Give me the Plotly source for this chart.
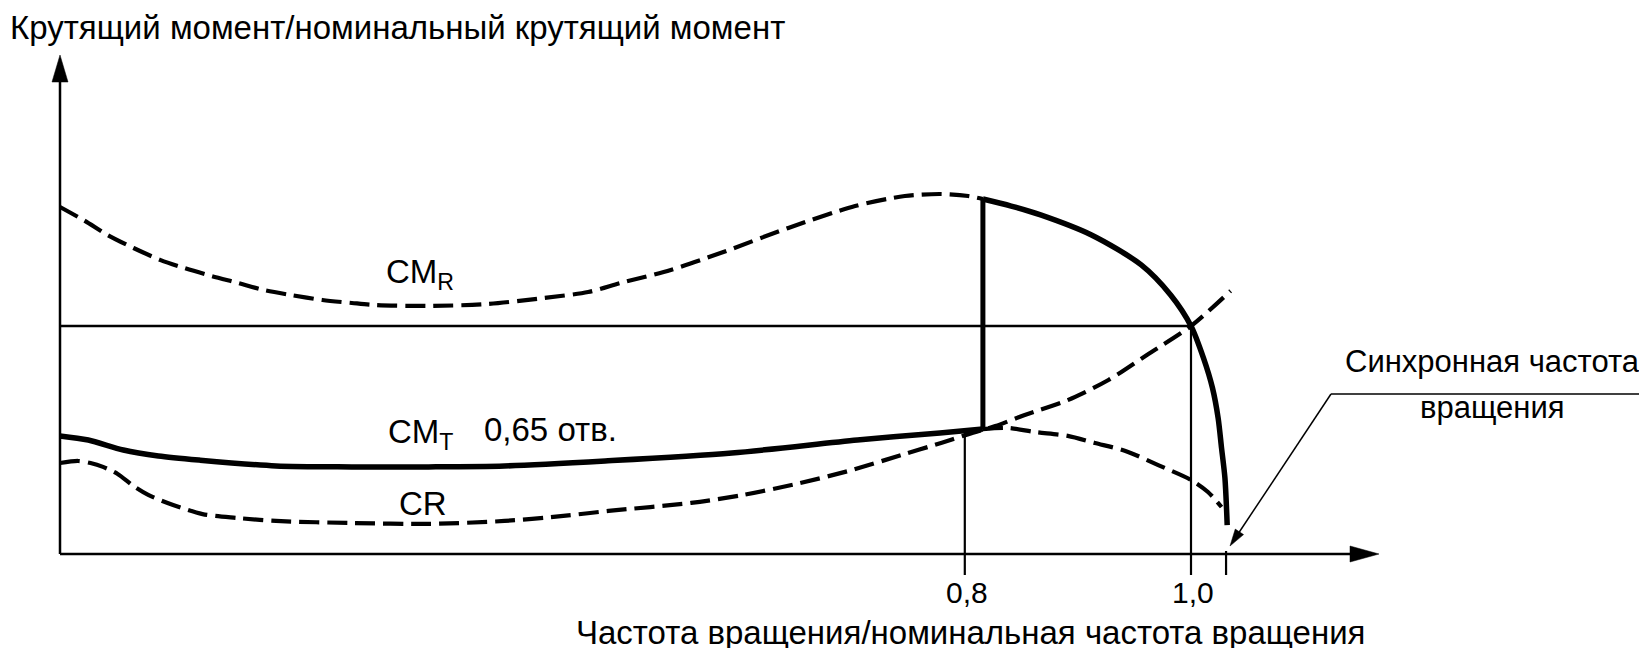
import math
import plotly.graph_objects as go

# ---------------- data ----------------
# speed / rated speed  (x)   and  torque / rated torque (y)
cmr_dash_x = [0.000, 0.022, 0.042, 0.065, 0.089, 0.110, 0.134, 0.157, 0.180, 0.204, 0.232,
              0.258, 0.279, 0.325, 0.377, 0.428, 0.467, 0.496, 0.540, 0.584, 0.644, 0.703,
              0.747, 0.779, 0.803, 0.816]
cmr_dash_y = [1.522, 1.461, 1.399, 1.342, 1.289, 1.254, 1.219, 1.189, 1.158, 1.136, 1.114,
              1.101, 1.092, 1.088, 1.096, 1.123, 1.149, 1.189, 1.246, 1.320, 1.430, 1.526,
              1.570, 1.579, 1.570, 1.557]

cmr_solid_x = [0.816, 0.841, 0.867, 0.912, 0.956, 0.982, 1.000, 1.011, 1.019, 1.024, 1.027, 1.030, 1.032]
cmr_solid_y = [1.557, 1.526, 1.487, 1.399, 1.268, 1.136, 1.000, 0.860, 0.728, 0.596, 0.465, 0.333, 0.127]

cmt_x = [0.000, 0.025, 0.056, 0.087, 0.123, 0.191, 0.258, 0.326, 0.393, 0.482, 0.594, 0.705, 0.778, 0.816]
cmt_y = [0.518, 0.500, 0.456, 0.430, 0.412, 0.386, 0.382, 0.382, 0.386, 0.408, 0.443, 0.500, 0.531, 0.548]

cmt_dash_x = [0.816, 0.838, 0.862, 0.891, 0.915, 0.942, 0.971, 1.000, 1.015, 1.027]
cmt_dash_y = [0.548, 0.553, 0.535, 0.518, 0.487, 0.452, 0.390, 0.325, 0.272, 0.206]

cr_x = [0.000, 0.016, 0.027, 0.038, 0.051, 0.065, 0.078, 0.100, 0.126, 0.157, 0.191, 0.258,
        0.326, 0.393, 0.445, 0.485, 0.558, 0.604, 0.651, 0.697, 0.744, 0.779, 0.801, 0.827,
        0.853, 0.891, 0.927, 0.961, 1.000, 1.035]
cr_y = [0.399, 0.408, 0.399, 0.382, 0.351, 0.298, 0.259, 0.215, 0.175, 0.158, 0.145, 0.136,
        0.132, 0.145, 0.167, 0.189, 0.224, 0.259, 0.307, 0.364, 0.434, 0.487, 0.522, 0.561,
        0.610, 0.675, 0.763, 0.873, 1.000, 1.154]

switch_x = 0.816          # vertical jump from CM_T to CM_R
switch_y = [0.548, 1.557]
pt08_y = 0.531            # top of the 0,8 reference line
sync_x = 1.031            # synchronous speed
tick_vals = [0.8, 1.0]
tick_text = ["0,8", "1,0"]

title_text = "Крутящий момент/номинальный крутящий момент"
xlabel_text = "Частота вращения/номинальная частота вращения"
sync_text = ["Синхронная частота", "вращения"]

# ---------------- geometry ----------------
W, H = 1647, 648
PX_X = 1131.0   # pixels per x unit
PX_Y = 228.0    # pixels per y unit
X0, Y0 = 52, 546  # pixel position of origin
x_range = [-X0 / PX_X, (W - X0) / PX_X]
y_range = [(Y0 - H) / PX_Y, Y0 / PX_Y]


def dx(p):
    return p / PX_X


def dy(p):
    return p / PX_Y


def vx(px):
    return (px - X0) / PX_X


def vy(py):
    return (Y0 - py) / PX_Y


Y_TOP = vy(47)
X_END = vx(1371)
TICK = dy(21)

BLACK = "#000000"
FONT = "Liberation Sans, Arial, sans-serif"
FS = 33

fig = go.Figure()


def line(x, y, width, dash=None, spline=False):
    fig.add_trace(go.Scatter(
        x=x, y=y, mode="lines", hoverinfo="skip", showlegend=False,
        line=dict(color=BLACK, width=width, dash=dash,
                  shape="spline" if spline else "linear", smoothing=0.8)))


def head(tip, tail, length, half):
    """filled arrow head at data point `tip`, pointing away from `tail` (sizes in px)"""
    tx, ty = tip[0] * PX_X, -tip[1] * PX_Y
    sx, sy = tail[0] * PX_X, -tail[1] * PX_Y
    L = math.hypot(tx - sx, ty - sy)
    ux, uy = (tx - sx) / L, (ty - sy) / L
    bx, by = tx - ux * length, ty - uy * length
    nx, ny = -uy, ux
    pts = [(tx, ty), (bx + nx * half, by + ny * half), (bx - nx * half, by - ny * half), (tx, ty)]
    fig.add_trace(go.Scatter(
        x=[p[0] / PX_X for p in pts], y=[-p[1] / PX_Y for p in pts], mode="lines",
        fill="toself", fillcolor=BLACK, line=dict(width=0.5, color=BLACK),
        hoverinfo="skip", showlegend=False))


DASH = "20px,8px"
# axes
line([0, 0], [0, Y_TOP - dy(10)], 2.5)
line([0, X_END - dx(10)], [0, 0], 2.5)
head((0, Y_TOP), (0, 0), 27, 8)
head((X_END, 0), (0, 0), 29, 8)
# reference lines
line([0, 1.0], [1.0, 1.0], 2.5)
line([tick_vals[0], tick_vals[0]], [-TICK, pt08_y], 2.2)
line([tick_vals[1], tick_vals[1]], [-TICK, 1.0], 2.2)
line([sync_x, sync_x], [-TICK, dy(3)], 2.2)
# curves
line(cmr_dash_x, cmr_dash_y, 4.2, DASH, True)
line(cr_x, cr_y, 4.2, DASH, True)
line(cmt_dash_x, cmt_dash_y, 4.2, DASH, True)
line(cmt_x, cmt_y, 5.5, None, True)
line(cmr_solid_x, cmr_solid_y, 5.5, None, True)
line([switch_x, switch_x], switch_y, 5)

ann = []


def text(t, x, y, xanchor="left", size=FS):
    ann.append(dict(text=t, x=x, y=y, xref="x", yref="y", showarrow=False,
                    xanchor=xanchor, yanchor="middle", font=dict(family=FONT, size=size, color=BLACK)))


text(title_text, vx(0), vy(19))
text(xlabel_text, vx(566), vy(624))
for v, t in zip(tick_vals, tick_text):
    text(t, v + dx(2), vy(584), "center", size=30)
text("CM<sub>R</sub>", vx(376), vy(266))
text("CM<sub>T</sub>", vx(378), vy(426))
text("0,65 отв.", vx(474), vy(421))
text("CR", vx(389), vy(495))
text(sync_text[0], vx(1484), vy(353), "center", size=31)
text(sync_text[1], vx(1484), vy(399), "center", size=31)

# leader for synchronous speed
lead_tail = (vx(1323), vy(386))
lead_tip = (vx(1222), vy(538))
line([lead_tail[0], vx(1646)], [lead_tail[1], lead_tail[1]], 1.5)
line([lead_tail[0], lead_tip[0] + dx(6)], [lead_tail[1], lead_tip[1] + dy(9)], 1.5)
head(lead_tip, lead_tail, 17, 5)

fig.update_layout(
    width=W, height=H, margin=dict(l=0, r=0, t=0, b=0),
    paper_bgcolor="white", plot_bgcolor="white",
    xaxis=dict(range=x_range, visible=False, fixedrange=True),
    yaxis=dict(range=y_range, visible=False, fixedrange=True),
    annotations=ann, showlegend=False,
)

fig.write_html("out.html")
